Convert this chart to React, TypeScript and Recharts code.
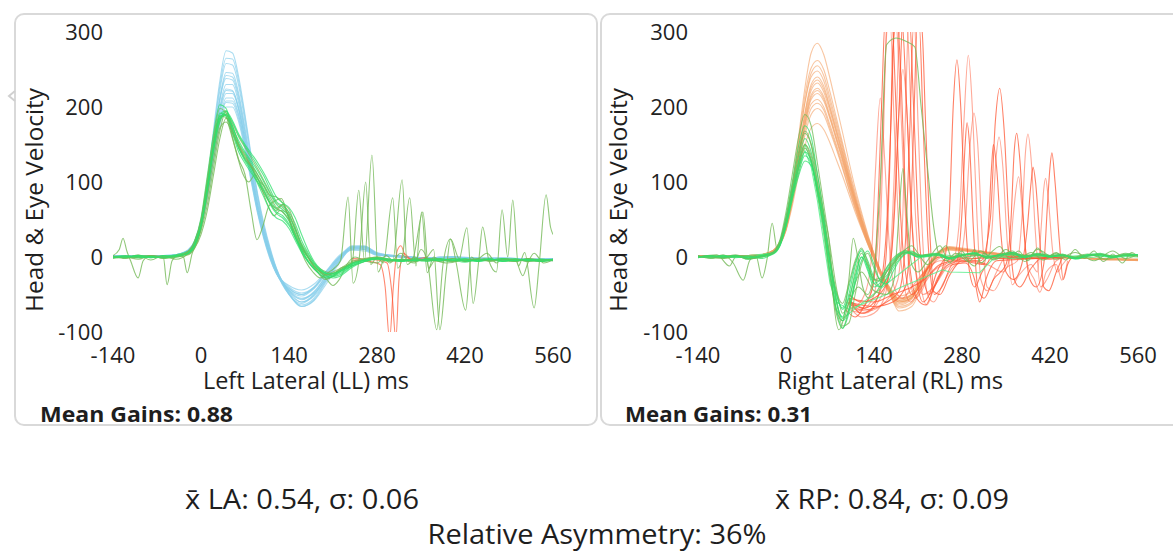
import { LineChart, Line, XAxis, YAxis } from "recharts";

const FONT = "'Open Sans', 'Noto Sans', sans-serif";

const X_TICKS = [-140, 0, 140, 280, 420, 560];
const Y_TICKS = [-100, 0, 100, 200, 300];

// sample times (ms) of the smooth head traces and of the eye traces
const HEAD_T = [-140, -100, -60, -40, -20, -10, 0, 10, 20, 30, 40, 50, 60, 70, 80, 90, 100, 110, 120, 140, 160, 180, 200, 220, 240, 260, 280, 320, 360, 400, 440, 480, 520, 560];
const EYE_T = [-140, -120, -100, -80, -60, -40, -20, -10, 0, 10, 20, 30, 40, 50, 60, 70, 80, 90, 100, 110, 120, 130, 140, 150, 160, 170, 180, 190, 200, 210, 220, 240, 260, 280, 300, 320, 340, 360, 380, 400, 420, 440, 460, 480, 500, 520, 540, 560];

// Left lateral: head velocity (blue)
const LL_HEAD = [
  [2, 2, 1, 3, 10, 22, 50, 100, 170, 235, 275, 272, 240, 190, 135, 85, 45, 12, -15, -48, -66, -58, -35, -8, 12, 14, 6, 0, -3, -1, -4, -2, -5, -4],
  [2, 1, 2, 2, 9, 21, 48, 98, 165, 228, 265, 264, 234, 186, 132, 82, 42, 10, -16, -50, -66, -57, -32, -6, 13, 14, 5, 1, -2, -1, -3, -2, -4, -4],
  [1, 2, 2, 2, 9, 20, 46, 95, 160, 222, 258, 256, 228, 180, 128, 80, 40, 8, -18, -50, -64, -55, -30, -4, 14, 15, 5, 1, -2, 0, -3, -3, -4, -5],
  [2, 1, 2, 3, 8, 19, 44, 90, 152, 212, 246, 245, 218, 172, 122, 76, 38, 8, -16, -46, -60, -52, -30, -6, 12, 13, 4, 0, -2, -1, -2, -2, -3, -3],
  [1, 2, 1, 3, 9, 20, 45, 92, 153, 210, 242, 240, 214, 168, 118, 72, 36, 6, -18, -48, -60, -50, -28, -4, 13, 13, 4, 0, -1, 0, -2, -3, -3, -3],
  [1, 1, 2, 2, 9, 21, 47, 94, 155, 210, 238, 236, 210, 165, 116, 70, 33, 4, -20, -50, -62, -50, -26, -2, 15, 14, 4, 1, -1, 0, -2, -3, -4, -2],
  [2, 2, 1, 2, 8, 18, 42, 86, 145, 200, 230, 230, 205, 162, 115, 70, 34, 5, -18, -44, -55, -48, -28, -5, 10, 12, 5, 0, -2, -1, -3, -1, -3, -4],
  [2, 1, 2, 2, 8, 19, 43, 86, 142, 195, 222, 221, 198, 157, 110, 66, 30, 2, -20, -45, -57, -47, -24, -2, 12, 11, 3, 0, -2, -1, -2, -2, -3, -4],
  [1, 2, 1, 3, 9, 20, 45, 88, 146, 198, 224, 222, 198, 156, 110, 66, 30, 2, -20, -46, -56, -46, -24, -2, 12, 12, 3, 0, -1, 0, -2, -2, -3, -3],
  [2, 1, 2, 2, 8, 18, 40, 82, 138, 190, 218, 218, 196, 155, 108, 64, 28, 0, -22, -44, -52, -42, -22, 0, 14, 12, 4, 1, -2, -1, -2, -3, -4, -3],
  [1, 1, 1, 2, 7, 17, 40, 80, 134, 184, 212, 212, 190, 150, 106, 62, 28, 1, -20, -40, -48, -40, -20, -1, 10, 10, 3, 0, -1, 0, -1, -2, -3, -2],
  [1, 2, 1, 2, 8, 18, 41, 82, 134, 180, 208, 208, 188, 150, 105, 62, 27, 0, -21, -42, -50, -41, -20, 0, 11, 10, 3, 1, -1, 0, -1, -2, -3, -3],
  [2, 2, 2, 3, 9, 19, 43, 84, 136, 182, 206, 205, 184, 146, 102, 60, 26, -2, -22, -42, -50, -40, -18, 2, 12, 10, 2, 0, -2, -1, -2, -2, -4, -3],
  [1, 1, 2, 2, 8, 17, 39, 78, 128, 175, 200, 200, 180, 143, 100, 58, 24, -3, -22, -38, -44, -36, -18, 0, 9, 8, 3, 1, -1, 0, -2, -1, -3, -2],
];

// Left lateral: eye velocity (green)
const LL_EYE = [
  [0, 2, -1, 1, 0, 2, 6, 18, 45, 95, 150, 190, 195, 175, 152, 138, 125, 110, 94, 76, 64, 60, 48, 30, 12, 0, -10, -18, -22, -24, -20, -10, -4, -2, -5, -3, -6, -2, -4, -6, -3, -5, -2, -6, -4, -3, -5, -4],
  [1, -1, 2, 0, 1, 3, 8, 22, 52, 108, 165, 203, 198, 170, 145, 128, 115, 98, 80, 62, 52, 48, 38, 22, 6, -6, -16, -24, -28, -26, -22, -12, -6, -3, -4, -6, -2, -5, -3, -4, -7, -3, -5, -4, -2, -6, -4, -3],
  [-1, 1, 0, 2, -1, 1, 5, 16, 42, 90, 145, 185, 190, 178, 160, 146, 132, 118, 102, 86, 72, 66, 56, 38, 18, 4, -8, -16, -20, -22, -18, -8, -3, 0, -3, -5, -4, -3, -6, -2, -5, -4, -3, -5, -6, -2, -4, -5],
  [0, 0, 1, -1, 2, 0, 7, 20, 48, 100, 155, 192, 188, 165, 140, 125, 112, 100, 88, 72, 60, 55, 44, 26, 10, -4, -14, -20, -24, -22, -18, -8, -4, -1, -4, -3, -5, -3, -2, -5, -4, -6, -3, -4, -5, -3, -6, -4],
  [1, 0, -1, 1, 0, 1, 6, 17, 44, 92, 148, 186, 192, 180, 162, 148, 135, 122, 108, 90, 74, 68, 60, 44, 22, 6, -8, -18, -25, -28, -26, -14, -6, -2, -4, -6, -3, -4, -5, -3, -2, -5, -4, -6, -3, -5, -3, -4],
  [0, 1, 1, 0, -1, 2, 7, 19, 46, 97, 152, 188, 186, 168, 150, 136, 122, 106, 90, 72, 62, 70, 64, 40, 15, 0, -12, -20, -24, -20, -16, -6, -2, 0, -3, -4, -6, -2, -3, -5, -4, -2, -6, -3, -4, -5, -3, -5],
  [-1, 0, 2, 1, 0, 1, 5, 15, 40, 88, 142, 182, 194, 182, 164, 150, 138, 126, 112, 96, 80, 72, 66, 52, 30, 10, -6, -16, -22, -26, -24, -12, -4, -2, -5, -3, -4, -6, -3, -4, -5, -3, -4, -2, -5, -4, -6, -3],
  [0, 1, 0, -1, 1, 2, 6, 18, 45, 96, 150, 188, 190, 170, 146, 130, 118, 104, 88, 70, 58, 52, 42, 26, 8, -6, -16, -22, -26, -24, -20, -10, -5, -2, -3, -5, -4, -3, -5, -4, -3, -6, -4, -3, -4, -5, -3, -4],
  [1, -1, 0, 2, 0, 0, 8, 21, 50, 104, 160, 198, 192, 168, 148, 134, 122, 110, 96, 80, 66, 60, 50, 32, 14, 0, -12, -20, -24, -22, -18, -8, -3, -1, -4, -4, -3, -5, -3, -6, -4, -3, -5, -4, -3, -6, -5, -4],
  [0, 0, 1, 0, -1, 1, 5, 16, 43, 91, 146, 184, 189, 172, 155, 140, 128, 115, 100, 84, 70, 63, 54, 36, 16, 2, -10, -18, -22, -22, -19, -9, -4, -1, -3, -5, -4, -4, -3, -4, -5, -4, -3, -5, -4, -4, -5, -4],
];

// Left lateral: noisy eye traces (olive green), [ms, velocity]
const LL_NOISY = [
  [[-140, 2], [-130, 10], [-124, 25], [-118, 8], [-112, -5], [-100, -28], [-92, -5], [-80, 2], [-60, 0], [-54, -37], [-46, -5], [-36, 2], [-28, 0], [-22, -21], [-14, 5], [-6, 20], [0, 40], [10, 85], [20, 140], [30, 180], [38, 190], [46, 170], [56, 140], [66, 112], [76, 100], [86, 110], [96, 92], [106, 70], [116, 55], [126, 62], [136, 60], [146, 35], [156, 15], [166, -5], [178, -20], [190, -28], [200, -22], [212, -15], [222, -5], [234, 80], [242, -35], [252, 0], [262, 100], [270, -10], [280, 0], [290, -8], [305, 79], [313, -15], [320, -2], [332, 79], [342, -12], [351, 60], [360, -21], [370, 0], [380, -4], [400, -2], [420, -6], [440, -3], [460, -4], [480, -2], [500, -5], [520, -3], [540, -6], [560, -4]],
  [[-140, 0], [-120, -2], [-100, 3], [-80, -4], [-60, 2], [-40, -3], [-20, 5], [-10, 15], [0, 35], [10, 70], [20, 120], [30, 168], [40, 195], [50, 160], [60, 130], [70, 110], [80, 60], [89, 23], [98, 40], [108, 68], [118, 75], [128, 78], [138, 55], [148, 30], [160, 10], [172, -8], [185, -20], [198, -30], [210, -25], [222, -15], [240, -10], [251, 89], [260, -5], [272, 136], [282, -20], [292, -2], [300, -8], [318, 5], [330, -5], [340, 0], [350, -5], [360, 0], [370, 10], [380, -97], [390, -20], [397, 24], [406, -8], [421, -71], [430, 0], [440, -6], [450, -2], [460, -4], [480, -3], [500, -6], [520, -2], [540, -5], [560, -3]],
  [[-140, -2], [-120, 0], [-100, -3], [-80, 2], [-60, -2], [-40, 0], [-20, 3], [-10, 12], [0, 30], [10, 62], [20, 110], [30, 158], [40, 185], [50, 175], [60, 150], [70, 130], [80, 120], [90, 104], [100, 95], [110, 82], [120, 80], [130, 72], [140, 52], [150, 30], [160, 12], [170, 0], [180, -12], [190, -20], [200, -30], [210, -38], [220, -30], [232, -10], [245, 0], [260, -5], [280, -8], [295, 2], [305, -5], [320, 103], [328, -10], [338, 0], [353, 60], [362, -15], [372, -5], [390, -8], [410, -5], [423, 39], [433, -62], [442, -4], [448, 40], [458, -5], [470, -20], [479, 63], [488, 0], [496, 76], [505, -12], [515, 6], [530, -68], [538, -10], [549, 83], [556, 40], [560, 30]],
  [[-140, 1], [-120, -1], [-100, 2], [-80, 0], [-60, -1], [-40, 2], [-20, 4], [-10, 14], [0, 38], [10, 80], [20, 130], [30, 172], [40, 180], [50, 165], [60, 145], [70, 132], [80, 120], [90, 100], [100, 85], [110, 72], [120, 65], [130, 70], [140, 58], [150, 36], [160, 16], [170, 0], [180, -14], [190, -24], [200, -28], [210, -26], [220, -20], [240, -12], [260, -6], [280, -3], [300, -6], [320, -4], [340, -8], [350, 10], [360, -5], [375, -97], [385, -10], [397, 24], [410, -2], [420, -6], [440, -3], [455, 5], [470, -8], [480, -2], [500, -4], [512, -25], [520, -8], [530, 5], [545, -8], [560, -4]],
];

// Left lateral: saccade segments (red)
const LL_SACC = [
  [[240, -4], [270, -6], [285, -10], [293, -40], [300, -110], [306, -40], [312, 8], [318, 15], [326, 0], [340, -4], [360, -2]],
  [[240, -2], [280, -4], [296, -8], [304, -50], [310, -110], [315, -30], [322, 5], [335, -3], [360, 0]],
];

// Right lateral: head velocity (orange)
const RL_HEAD = [
  [2, 1, 2, 3, 9, 20, 46, 95, 160, 225, 272, 285, 270, 238, 202, 166, 128, 92, 60, 4, -40, -62, -55, -24, 4, 14, 12, 7, 3, 2, 0, -2, -3, -5],
  [2, 1, 2, 3, 9, 20, 44, 92, 155, 215, 252, 262, 250, 220, 186, 152, 118, 86, 56, 4, -38, -60, -54, -24, 4, 13, 11, 6, 3, 2, 0, -2, -3, -4],
  [1, 2, 1, 2, 8, 19, 42, 88, 148, 206, 245, 255, 242, 212, 180, 148, 114, 82, 52, 2, -38, -60, -54, -24, 3, 12, 11, 6, 3, 1, 0, -2, -4, -4],
  [2, 1, 2, 3, 9, 20, 44, 90, 150, 205, 240, 248, 235, 206, 175, 144, 110, 80, 52, 4, -34, -56, -52, -22, 5, 13, 10, 6, 2, 2, -1, -2, -3, -4],
  [2, 1, 2, 3, 8, 18, 40, 82, 138, 192, 230, 240, 228, 200, 170, 140, 108, 78, 50, 2, -35, -55, -50, -22, 4, 12, 10, 6, 3, 2, 0, -2, -3, -4],
  [1, 2, 1, 2, 8, 18, 40, 80, 136, 190, 226, 236, 224, 198, 168, 138, 106, 76, 49, 2, -36, -56, -50, -20, 4, 12, 10, 5, 3, 1, 0, -2, -3, -4],
  [1, 1, 2, 2, 7, 17, 38, 78, 132, 185, 222, 232, 220, 194, 165, 135, 104, 75, 48, 0, -36, -58, -50, -20, 4, 11, 10, 5, 3, 1, 0, -1, -3, -3],
  [2, 2, 1, 3, 8, 18, 40, 80, 132, 182, 216, 225, 214, 188, 160, 132, 102, 74, 46, -2, -40, -64, -56, -24, 2, 12, 9, 5, 2, 1, -1, -2, -2, -4],
  [2, 1, 2, 2, 8, 17, 38, 77, 128, 178, 213, 222, 211, 186, 158, 130, 100, 72, 45, 0, -38, -60, -54, -22, 3, 11, 9, 5, 2, 1, -1, -2, -3, -3],
  [1, 1, 2, 2, 8, 17, 37, 76, 126, 176, 210, 218, 208, 184, 156, 128, 98, 70, 44, 0, -34, -52, -46, -18, 5, 12, 10, 6, 3, 2, 0, -2, -3, -3],
  [2, 1, 1, 3, 8, 18, 40, 78, 128, 174, 204, 210, 200, 176, 150, 124, 96, 68, 42, -2, -38, -58, -52, -22, 3, 12, 10, 5, 2, 1, 0, -2, -3, -4],
  [1, 1, 2, 3, 7, 16, 37, 74, 122, 168, 198, 205, 196, 172, 147, 120, 92, 66, 41, -2, -40, -66, -60, -28, 1, 10, 9, 5, 2, 1, 0, -2, -3, -4],
  [1, 2, 2, 2, 7, 16, 36, 72, 118, 162, 190, 198, 190, 168, 144, 118, 90, 64, 40, -4, -42, -68, -62, -30, 0, 10, 9, 5, 2, 0, -1, -2, -4, -4],
  [2, 1, 1, 2, 7, 16, 35, 68, 110, 148, 172, 178, 170, 152, 130, 108, 84, 60, 38, -2, -36, -72, -66, -32, -2, 9, 8, 4, 2, 1, 0, -1, -3, -3],
];

// Right lateral: eye velocity (green)
const RL_EYE = [
  [0, 2, -1, 2, -3, 1, 7, 22, 60, 110, 160, 190, 175, 125, 70, 15, -40, -75, -60, -20, 5, -10, -30, -28, -14, -2, 5, 9, 5, 1, 2, 4, -2, 3, 5, -1, 4, 6, 0, 4, 1, 3, -2, 2, 4, 0, 3, 2],
  [1, 0, 2, -1, 1, -2, 6, 20, 54, 100, 148, 175, 160, 110, 58, 0, -55, -85, -70, -30, 0, -18, -40, -34, -18, -6, 3, 7, 3, 0, 3, 5, -1, 2, 4, 0, 3, 5, 1, 3, 0, 2, -1, 3, 5, 1, 2, 3],
  [0, 2, -1, 2, -3, 1, 6, 18, 48, 88, 128, 158, 140, 98, 50, -5, -50, -68, -40, -8, 8, -15, -35, -30, -15, -4, 4, 8, 4, 0, 2, 4, -2, 2, 5, -1, 3, 6, 0, 4, 1, 3, -2, 2, 4, 0, 3, 2],
  [-1, 1, 0, 3, -2, 0, 5, 16, 44, 82, 120, 150, 135, 95, 48, -8, -58, -92, -88, -50, -10, 5, -15, -30, -25, -12, 0, 6, 8, 3, 1, 3, -1, 3, 4, 0, 2, 5, 0, 3, 2, 2, -1, 1, 3, 0, 2, 1],
  [0, 1, 1, 0, -1, 2, 6, 17, 46, 84, 118, 140, 128, 90, 45, -10, -60, -80, -50, -12, 10, -5, -28, -40, -28, -10, 2, 6, 4, 0, 1, 3, -3, 2, 6, -2, 3, 4, -1, 5, 2, 4, -3, 1, 3, -1, 4, 3],
  [1, -1, 0, 2, -2, 1, 5, 15, 42, 80, 112, 135, 125, 88, 40, -20, -70, -95, -75, -35, -5, 8, -10, -32, -36, -20, -5, 4, 6, 2, 0, 2, -2, 4, 3, 1, 2, 6, 2, 3, 0, 3, -2, 3, 2, 1, 3, 2],
  [0, 0, -1, 1, -2, 0, 6, 19, 52, 96, 140, 168, 150, 100, 55, 0, -45, -62, -35, -5, 12, -8, -30, -32, -20, -8, 2, 6, 5, 2, 3, 4, 0, 2, 4, -1, 3, 5, 1, 4, 2, 3, 0, 2, 4, 1, 3, 2],
  [-1, 1, 0, 1, -1, 0, 4, 14, 40, 76, 108, 128, 122, 92, 50, -8, -48, -70, -55, -25, 0, -12, -35, -40, -30, -15, -3, 5, 7, 3, 2, 4, -1, 2, 5, 0, 2, 4, 0, 3, 1, 2, -1, 2, 3, 0, 2, 3],
];

// Right lateral: noisy eye traces (olive), one with a late saccade
const RL_NOISY = [
  [[-140, 2], [-120, -2], [-100, 3], [-84, -8], [-68, -31], [-58, -5], [-48, 2], [-38, -28], [-30, -2], [-22, 45], [-14, 10], [-6, 30], [0, 52], [10, 92], [20, 135], [30, 165], [40, 150], [50, 110], [60, 60], [70, 10], [76, -60], [84, -97], [92, -80], [100, -30], [107, 25], [114, 0], [122, -40], [132, -55], [145, -45], [160, -20], [175, -5], [190, 10], [200, 15], [210, 5], [225, -10], [240, 2], [255, 15], [265, -5], [280, 8], [290, -3], [300, 10], [310, -8], [325, 5], [340, 14], [355, -2], [370, 8], [385, -5], [400, 12], [415, 0], [430, 6], [445, -4], [460, 10], [475, -2], [490, 8], [505, -6], [520, 4], [535, -8], [550, 6], [560, 0]],
  [[-140, 0], [-110, 3], [-90, -12], [-80, 0], [-40, 2], [-20, 5], [-10, 16], [0, 45], [10, 85], [20, 125], [30, 150], [40, 130], [50, 85], [60, 40], [70, -20], [80, -70], [90, -85], [100, -62], [115, -40], [130, -50], [140, -20], [150, 100], [160, 283], [175, 292], [190, 288], [205, 280], [215, 200], [225, 120], [235, 40], [242, 7], [255, -5], [270, 5], [290, -6], [310, 8], [330, -3], [350, 10], [370, -2], [390, 6], [410, -4], [430, 5], [450, -2], [480, 4], [510, -3], [540, 5], [560, 2]],
  [[-140, 1], [-100, -2], [-70, 2], [-40, 0], [-20, 6], [-10, 18], [0, 44], [10, 84], [20, 120], [30, 145], [40, 128], [50, 88], [60, 35], [70, -25], [80, -75], [90, -95], [100, -70], [110, -35], [120, -20], [140, -45], [160, -50], [172, -30], [180, 60], [186, 118], [192, 60], [200, -10], [210, -20], [225, -5], [245, 15], [260, -8], [275, 5], [300, -12], [315, 5], [330, -4], [360, 8], [380, -6], [400, 10], [430, -3], [460, 6], [490, -5], [520, 8], [540, -2], [560, 3]],
];

// Right lateral: traces with gaps bridged by straight segments (light green)
const RL_GAP = [
  [[-140, 0], [-100, 2], [-60, -1], [-20, 6], [-10, 17], [0, 46], [10, 88], [20, 126], [30, 150], [40, 128], [50, 82], [60, 30], [70, -30], [80, -70], [90, -82], [213, -1], [240, 4], [280, 0], [320, 3], [360, -2], [400, 2], [440, 0], [480, 3], [520, -1], [560, 2]],
  [[-140, 1], [-100, -1], [-60, 2], [-20, 5], [-10, 15], [0, 42], [10, 80], [20, 118], [30, 142], [40, 120], [50, 75], [60, 20], [70, -35], [80, -60], [100, -70], [130, -60], [160, -50], [181, -41], [249, -17], [260, -20], [308, -21], [330, -2], [360, 3], [400, 0], [440, 2], [480, -1], [520, 2], [560, 0]],
];

// Right lateral: catch-up saccades (red)
const RL_SACC = [
  [[95, -70], [110, -80], [125, -65], [138, -40], [146, 60], [152, 200], [158, 320], [168, 320], [175, 200], [182, 60], [190, -20], [200, -50], [212, -40], [225, -15], [245, 0], [270, -4], [300, 2], [340, -2], [380, 0], [420, -3], [445, 0]],
  [[100, -60], [115, -72], [128, -60], [140, -30], [150, 80], [157, 240], [163, 330], [172, 340], [180, 250], [188, 90], [196, -20], [206, -55], [216, -45], [230, -15], [250, 0], [290, -3], [330, 2], [380, -2], [440, 0]],
  [[100, -55], [120, -75], [135, -70], [150, -40], [160, 40], [167, 180], [173, 310], [184, 320], [192, 200], [200, 50], [208, -30], [218, -60], [228, -50], [240, -20], [260, 0], [300, -2], [350, 1], [440, -1]],
  [[100, -65], [120, -80], [140, -75], [158, -50], [168, 30], [175, 170], [181, 305], [192, 315], [199, 190], [207, 40], [215, -40], [224, -64], [234, -45], [250, -15], [265, 0], [300, 2], [350, -2], [440, 0]],
  [[100, -50], [120, -60], [140, -55], [160, -35], [172, 50], [180, 200], [186, 320], [196, 325], [203, 200], [211, 40], [219, -30], [228, -50], [240, -30], [252, -5], [260, 60], [266, 200], [272, 263], [278, 200], [285, 60], [292, -20], [300, -40], [312, -20], [330, 0], [380, -2], [440, 0]],
  [[95, -60], [110, -65], [125, -50], [135, -10], [142, 110], [150, 212], [157, 130], [164, 20], [172, -40], [185, -55], [200, -40], [220, -20], [245, -5], [265, -5], [275, 40], [283, 180], [290, 269], [297, 190], [304, 50], [310, -30], [320, -45], [335, -20], [350, 0], [400, -2], [440, 0]],
  [[100, -60], [130, -70], [160, -60], [180, -45], [190, 20], [197, 170], [203, 310], [212, 310], [218, 180], [226, 20], [234, -45], [245, -50], [260, -25], [280, -5], [310, -5], [325, 50], [333, 180], [340, 225], [347, 170], [355, 40], [363, -30], [372, -40], [390, -15], [410, 0], [440, -2]],
  [[100, -70], [125, -75], [150, -55], [165, -20], [173, 80], [180, 200], [186, 250], [192, 200], [199, 70], [207, -20], [218, -50], [235, -40], [255, -15], [275, -5], [285, 40], [292, 140], [299, 192], [305, 150], [312, 30], [320, -40], [330, -45], [350, -15], [368, -5], [376, 60], [381, 140], [385, 164], [390, 130], [397, 30], [405, -40], [415, -30], [430, -5], [445, 0]],
  [[100, -58], [125, -68], [145, -55], [158, -10], [165, 120], [170, 280], [176, 320], [183, 240], [190, 80], [198, -20], [208, -55], [222, -64], [236, -40], [255, -12], [272, -5], [280, 60], [285, 150], [288, 179], [292, 150], [298, 40], [305, -40], [315, -55], [330, -30], [350, -10], [358, 50], [363, 140], [367, 165], [372, 130], [380, 20], [388, -30], [398, -40], [410, -10], [416, 70], [420, 120], [423, 139], [428, 100], [435, 20], [441, -30], [448, -10], [455, 0]],
  [[100, -66], [130, -72], [160, -58], [178, -30], [186, 60], [191, 220], [196, 330], [204, 320], [210, 180], [217, 30], [225, -50], [235, -60], [250, -35], [270, -10], [300, -5], [320, -10], [328, 40], [334, 130], [339, 160], [345, 120], [352, 20], [360, -37], [370, -25], [390, -10], [400, -20], [406, 40], [410, 90], [413, 105], [417, 80], [424, 10], [432, -20], [440, -10], [450, 0]],
  [[100, -55], [140, -60], [170, -50], [200, -40], [220, -30], [245, -10], [270, -5], [300, -8], [315, -10], [322, 40], [327, 120], [330, 150], [335, 120], [342, 30], [350, -20], [362, -30], [375, -10], [384, 40], [390, 100], [393, 120], [397, 100], [404, 20], [410, -40], [418, -45], [430, -20], [440, 0]],
  [[100, -62], [120, -70], [138, -55], [148, 0], [155, 160], [160, 305], [166, 310], [172, 180], [180, 30], [188, -40], [198, -60], [212, -45], [240, -15], [280, -5], [320, -10], [345, -20], [355, -5], [362, 60], [370, 107], [376, 60], [384, -10], [395, -30], [404, -47], [414, -20], [430, -10], [439, -31], [448, -5]],
  [[100, -60], [140, -66], [170, -60], [190, -40], [198, 40], [204, 200], [209, 310], [216, 305], [222, 180], [229, 30], [236, -50], [248, -40], [265, -10], [285, -8], [300, -30], [308, -60], [318, -30], [335, -5], [380, -3], [440, 0]],
];

type Pt = { t: number; v: number };
type Trace = { data: Pt[]; color: string; opacity: number; curve: "monotone" | "linear" };

const onGrid = (ts: number[], vs: number[]): Pt[] =>
  ts.map((t, i) => ({ t, v: vs[i] })).filter((p) => p.v !== undefined);
const fromPairs = (ps: number[][]): Pt[] => ps.map(([t, v]) => ({ t, v }));

const BLUE = "#87ceeb";
const GREEN = "#2fe06c";
const OLIVE = "#74b957";
const ORANGE = "#f3a064";
const RED = "#ff5533";
const LIGHT_GREEN = "#55ee88";

const leftTraces: Trace[] = [
  ...LL_HEAD.map((vs) => ({ data: onGrid(HEAD_T, vs), color: BLUE, opacity: 0.7, curve: "monotone" as const })),
  ...LL_SACC.map((ps) => ({ data: fromPairs(ps), color: RED, opacity: 0.7, curve: "monotone" as const })),
  ...LL_NOISY.map((ps) => ({ data: fromPairs(ps), color: OLIVE, opacity: 0.8, curve: "monotone" as const })),
  ...LL_EYE.map((vs, i) => ({ data: onGrid(EYE_T, vs), color: i % 3 === 2 ? OLIVE : GREEN, opacity: 0.75, curve: "monotone" as const })),
];

const rightTraces: Trace[] = [
  ...RL_HEAD.map((vs) => ({ data: onGrid(HEAD_T, vs), color: ORANGE, opacity: 0.6, curve: "monotone" as const })),
  ...RL_SACC.map((ps, i) => ({ data: fromPairs(ps), color: RED, opacity: i % 2 ? 0.5 : 0.75, curve: "monotone" as const })),
  ...RL_GAP.map((ps) => ({ data: fromPairs(ps), color: LIGHT_GREEN, opacity: 0.8, curve: "linear" as const })),
  ...RL_NOISY.map((ps) => ({ data: fromPairs(ps), color: OLIVE, opacity: 0.8, curve: "monotone" as const })),
  ...RL_EYE.map((vs, i) => ({ data: onGrid(EYE_T, vs), color: i % 3 === 0 ? OLIVE : GREEN, opacity: 0.75, curve: "monotone" as const })),
];

const tickStyle = { fontSize: 22, fill: "#222", fontFamily: FONT };

function VelocityPanel({ x, traces }: { x: number; traces: Trace[] }) {
  return (
    <div style={{ position: "absolute", left: x, top: 13 }}>
      <LineChart width={583} height={412} margin={{ top: 19, right: 44, bottom: 63, left: 9 }}>
        <XAxis
          dataKey="t"
          type="number"
          domain={[-140, 560]}
          ticks={X_TICKS}
          interval={0}
          allowDataOverflow
          axisLine={false}
          tickLine={false}
          tickSize={6}
          tickMargin={9}
          height={30}
          tick={tickStyle}
        />
        <YAxis
          type="number"
          domain={[-100, 300]}
          ticks={Y_TICKS}
          interval={0}
          allowDataOverflow
          axisLine={false}
          tickLine={false}
          tickSize={6}
          tickMargin={4}
          width={90}
          tick={tickStyle}
        />
        {traces.map((tr, i) => (
          <Line
            key={i}
            data={tr.data}
            dataKey="v"
            type={tr.curve}
            stroke={tr.color}
            strokeOpacity={tr.opacity}
            strokeWidth={1.1}
            dot={false}
            activeDot={false}
            legendType="none"
            isAnimationActive={false}
          />
        ))}
      </LineChart>
    </div>
  );
}

const box = (left: number, width: number): React.CSSProperties => ({
  position: "absolute",
  left,
  top: 13,
  width,
  height: 413,
  border: "2px solid #d9d9d9",
  borderRadius: 10,
  boxSizing: "border-box",
});

export default function App() {
  return (
    <div style={{ position: "relative", width: 1173, height: 554, overflow: "hidden", background: "#fff", fontFamily: FONT }}>
      <style>{`body{margin:0;overflow:hidden}`}</style>
      <div style={box(14, 584)} />
      <div style={box(600, 620)} />
      <VelocityPanel x={14} traces={leftTraces} />
      <VelocityPanel x={599} traces={rightTraces} />
      <svg width={1173} height={554} style={{ position: "absolute", left: 0, top: 0, pointerEvents: "none" }} fontFamily={FONT} fill="#1e1e1e">
        <path d="M15 91 L9 96 L15 101" fill="none" stroke="#d0d0d0" strokeWidth={2} />
        <text transform="translate(43,200) rotate(-90)" textAnchor="middle" fontSize={23} textLength={224} lengthAdjust="spacingAndGlyphs">Head &amp; Eye Velocity</text>
        <text transform="translate(627,200) rotate(-90)" textAnchor="middle" fontSize={23} textLength={224} lengthAdjust="spacingAndGlyphs">Head &amp; Eye Velocity</text>
        <text x={306} y={389} textAnchor="middle" fontSize={23} textLength={206} lengthAdjust="spacingAndGlyphs">Left Lateral (LL) ms</text>
        <text x={890} y={389} textAnchor="middle" fontSize={23} textLength={226} lengthAdjust="spacingAndGlyphs">Right Lateral (RL) ms</text>
        <text x={40} y={422} fontSize={22} fontWeight={700} textLength={193} lengthAdjust="spacingAndGlyphs">Mean Gains: 0.88</text>
        <text x={625} y={422} fontSize={22} fontWeight={700} textLength={187} lengthAdjust="spacingAndGlyphs">Mean Gains: 0.31</text>
        <text x={302} y={509} textAnchor="middle" fontSize={28} textLength={234} lengthAdjust="spacingAndGlyphs">x̄ LA: 0.54, σ: 0.06</text>
        <text x={892} y={509} textAnchor="middle" fontSize={28} textLength={234} lengthAdjust="spacingAndGlyphs">x̄ RP: 0.84, σ: 0.09</text>
        <text x={597} y={544} textAnchor="middle" fontSize={28} textLength={339} lengthAdjust="spacingAndGlyphs">Relative Asymmetry: 36%</text>
      </svg>
    </div>
  );
}
